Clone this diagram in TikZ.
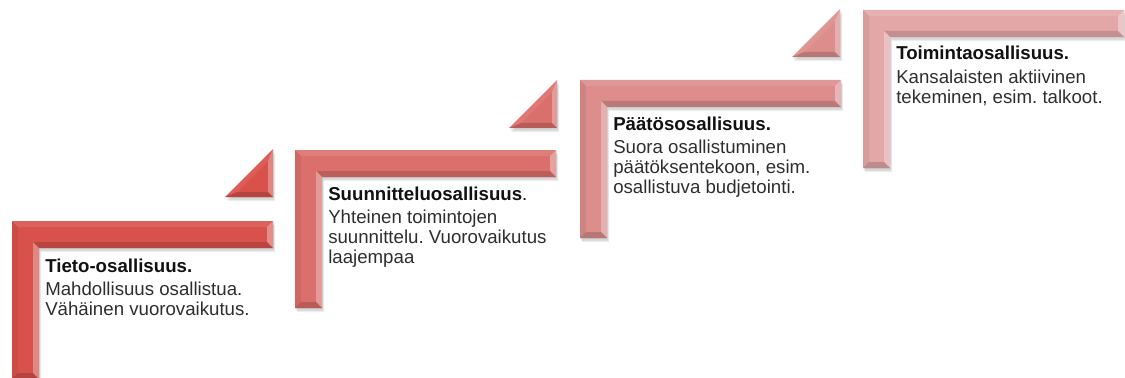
\documentclass[tikz,border=0pt]{standalone}
\usepackage{fontspec}
\setmainfont{Liberation Sans}
\usepackage{tikz}
\usetikzlibrary{calc,positioning}
\frenchspacing
\definecolor{stairred}{HTML}{D8514B}
\definecolor{stairrose}{HTML}{DB6F6B}
\definecolor{stairpink}{HTML}{DC8D8C}
\definecolor{stairblush}{HTML}{E4A7A8}
\definecolor{stairtitle}{HTML}{111111}
\definecolor{stairbody}{HTML}{2E2E2E}
\newcommand{\lshape}{(0,0) -- (261,0) -- (261,27) -- (27,27) -- (27,158) -- (0,158) -- cycle}
\newcommand{\tshape}{(-48,0) -- (0,0) -- (0,-48) -- cycle}

\begin{document}
\begin{tikzpicture}[
  x=0.75pt, y=-0.75pt,
  every node/.style={font=\fontsize{14}{15}\selectfont, text=stairbody, inner sep=0pt},
  leveltitle/.style={anchor=base west, font=\fontsize{14}{15}\selectfont\bfseries, text=stairtitle},
  levelbody/.style={below=7.5pt of #1, anchor=north west, align=left},
  lighten/.style={fill=white, fill opacity=#1},
  darken/.style={fill=black, fill opacity=#1},
  castshadow/.style={fill=black, fill opacity=.07}
]
\useasboundingbox (0,0) rectangle (1125,378);

% L-shaped stairs
\foreach \px/\py/\col/\i in {12/221/stairred/1, 295/150/stairrose/2, 580/80/stairpink/3, 863/10/stairblush/4} {
  \begin{scope}[shift={(\px,\py)}]
    \foreach \s in {1,2,3}
      \fill[castshadow, shift={(\s*0.7,\s*1.4)}] \lshape;
    \fill[\col] \lshape;
    \fill[lighten=.10] (0,0) -- (261,0) -- (255,6) -- (6,6) -- cycle;
    \fill[darken=.06] (0,0) -- (6,6) -- (6,152) -- (0,158) -- cycle;
    \fill[darken=.14] (27,27) -- (261,27) -- (255,21) -- (21,21) -- cycle;
    \fill[lighten=.30] (27,27) -- (21,21) -- (21,152) -- (27,158) -- cycle;
    \fill[lighten=.35] (261,0) -- (261,27) -- (255,21) -- (255,6) -- cycle;
    \fill[darken=.16] (0,158) -- (27,158) -- (21,152) -- (6,152) -- cycle;
    \coordinate (corner\i) at (27,27);
  \end{scope}
}

% small triangles
\foreach \px/\py/\col in {273/197/stairred, 557/128/stairrose, 840/57/stairpink} {
  \begin{scope}[shift={(\px,\py)}]
    \foreach \s in {1,2,3}
      \fill[castshadow, shift={(\s*0.7,\s*1.4)}] \tshape;
    \fill[\col] \tshape;
    \fill[darken=.16] (-48,0) -- (0,0) -- (-5,-5) -- (-35.9,-5) -- cycle;
    \fill[lighten=.30] (0,0) -- (0,-48) -- (-5,-35.9) -- (-5,-5) -- cycle;
    \fill[lighten=.08] (0,-48) -- (-48,0) -- (-35.9,-5) -- (-5,-35.9) -- cycle;
  \end{scope}
}

\node[leveltitle] (tieto) at ([shift={(6,24)}]corner1) {Tieto-osallisuus.};
\node[levelbody=tieto.base west] (tietobody) {Mahdollisuus osallistua.\\Vähäinen vuorovaikutus.};
\node[leveltitle] (suunnittelu) at ([shift={(6,23)}]corner2) {Suunnitteluosallisuus\textmd{.}};
\node[levelbody=suunnittelu.base west] (suunnittelubody) {Yhteinen toimintojen\\suunnittelu. Vuorovaikutus\\laajempaa};
\node[leveltitle] (paatos) at ([shift={(6,23)}]corner3) {Päätösosallisuus.};
\node[levelbody=paatos.base west] (paatosbody) {Suora osallistuminen\\päätöksentekoon, esim.\\osallistuva budjetointi.};
\node[leveltitle] (toiminta) at ([shift={(6,23)}]corner4) {Toimintaosallisuus.};
\node[levelbody=toiminta.base west] (toimintabody) {Kansalaisten aktiivinen\\tekeminen, esim. talkoot.};
\end{tikzpicture}
\end{document}
